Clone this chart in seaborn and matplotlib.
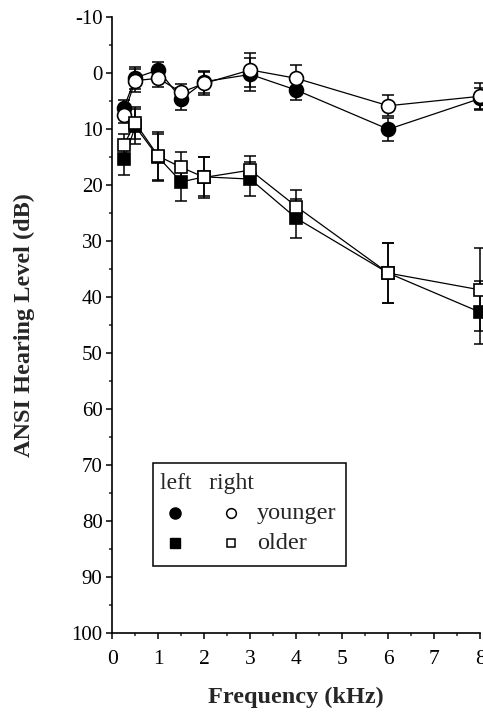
"""Hearing thresholds by frequency for younger / older listeners, left and right ear."""

import matplotlib.pyplot as plt
import pandas as pd
import seaborn as sns
from matplotlib.patches import Rectangle
from matplotlib.ticker import MultipleLocator

freq_khz = [0.25, 0.5, 1, 1.5, 2, 3, 4, 6, 8]

younger_left = [6.2, 0.8, -0.6, 4.6, 1.5, 0.2, 3.0, 10.0, 4.5]
younger_left_err = [1.5, 2.0, 1.5, 2.0, 2.0, 3.0, 1.8, 2.1, 1.8]
younger_right = [7.4, 1.3, 0.9, 3.4, 1.8, -0.6, 0.9, 5.8, 4.1]
younger_right_err = [1.5, 2.0, 1.5, 1.5, 2.0, 3.0, 2.3, 1.9, 2.4]

older_left = [15.4, 9.5, 15.0, 19.4, 18.5, 18.9, 25.9, 35.7, 42.7]
older_left_err = [2.8, 3.2, 4.2, 3.5, 3.5, 3.0, 3.5, 5.3, 5.6]
older_right = [12.8, 8.9, 14.8, 16.8, 18.6, 17.3, 23.8, 35.7, 38.7]
older_right_err = [2.0, 2.8, 4.3, 2.8, 3.6, 2.5, 3.0, 5.3, 7.4]

sns.set_theme(style="ticks")
plt.rcParams["font.family"] = ["Liberation Serif", "DejaVu Serif"]
plt.rcParams["axes.unicode_minus"] = False  # plain hyphen in "-10"

fig = plt.figure(figsize=(4.83, 7.19), dpi=100)
ax = fig.add_axes([0.2325, 0.1196, 0.7620, 0.8563])

# (values, errors, marker, facecolor, size) -- filled first so open sits on top
series = [
    (younger_left, younger_left_err, "o", "black", 10),
    (younger_right, younger_right_err, "o", "white", 10),
    (older_left, older_left_err, "s", "black", 8),
    (older_right, older_right_err, "s", "white", 8),
]

for z, (vals, errs, marker, face, size) in enumerate(series):
    df = pd.DataFrame({"freq": freq_khz, "level": vals})
    ax.errorbar(df["freq"], df["level"], yerr=errs, fmt="none", ecolor="black",
                elinewidth=1.1, capsize=4, capthick=1.1, zorder=2 + z, clip_on=False)
    sns.lineplot(data=df, x="freq", y="level", ax=ax, color="black", linewidth=0.9,
                 marker=marker, markersize=size, markerfacecolor=face,
                 markeredgecolor="black", markeredgewidth=1.2, sort=False,
                 legend=False, zorder=3 + z, clip_on=False)

ax.set_xlim(0, 8)
ax.set_ylim(100, -10)
ax.xaxis.set_major_locator(MultipleLocator(1))
ax.xaxis.set_minor_locator(MultipleLocator(0.5))
ax.yaxis.set_major_locator(MultipleLocator(10))
ax.yaxis.set_minor_locator(MultipleLocator(5))
ax.tick_params(which="major", length=4, width=1.1, direction="out",
               labelsize=15, colors="black", pad=3)
ax.tick_params(axis="x", which="major", labelsize=15.5, pad=8)
ax.tick_params(which="minor", length=2.5, width=1.1, direction="out")
sns.despine(ax=ax)
for side in ("left", "bottom"):
    ax.spines[side].set_linewidth(1.2)
    ax.spines[side].set_color("black")

ax.set_xlabel("Frequency (kHz)", fontsize=17.5, fontweight="bold", labelpad=13)
ax.set_ylabel("ANSI Hearing Level (dB)", fontsize=17.5, fontweight="bold", labelpad=26)

# hand-built legend: two marker columns (left / right ear)
ax.add_patch(Rectangle((0.885, 69.6), 4.2, 18.4, fill=False, edgecolor="black",
                       linewidth=1.1, zorder=6))
ax.text(1.03, 73.2, "left   right", fontsize=17, va="center", ha="left", zorder=7)
for row_y, marker, size, label in [(78.6, "o", 8, "younger"), (84.0, "s", 7, "older")]:
    ax.plot([1.37], [row_y], marker=marker, color="black", markersize=size, zorder=7)
    ax.plot([2.57], [row_y], marker=marker, markerfacecolor="white", markeredgecolor="black",
            markeredgewidth=1.1, markersize=size - 1, zorder=7)
    ax.text(3.15, row_y, label, fontsize=17.5, va="center", ha="left", zorder=7)

fig.savefig("out.png", dpi=100)
